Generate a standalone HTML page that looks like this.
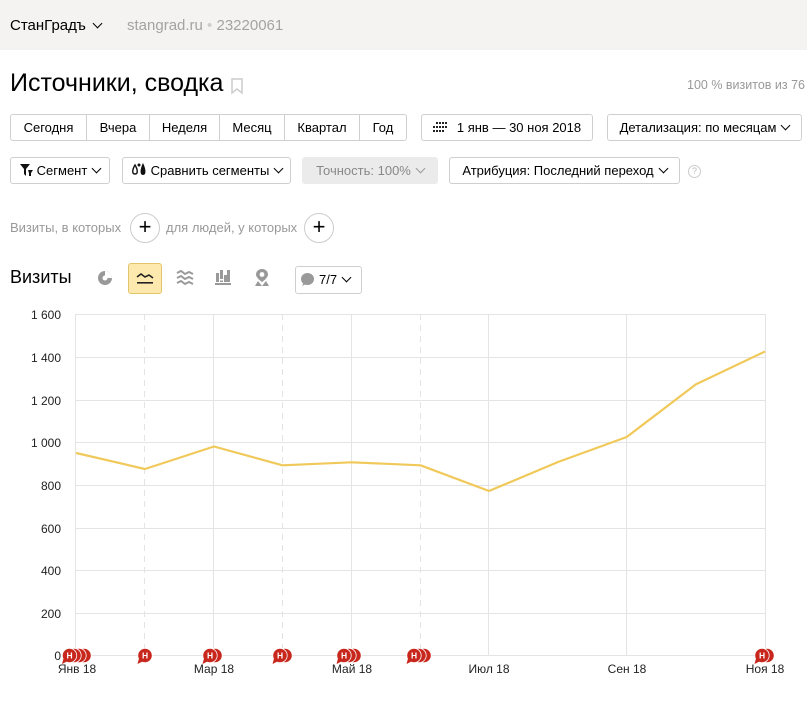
<!DOCTYPE html>
<html><head><meta charset="utf-8">
<style>
*{margin:0;padding:0;box-sizing:border-box}
body{width:807px;height:727px;overflow:hidden;background:#fff;font-family:"Liberation Sans","DejaVu Sans",sans-serif;color:#000;position:relative}
.abs{position:absolute}
.hdr{left:0;top:0;width:807px;height:50px;background:#f4f3f1}
.btn{position:absolute;height:27px;border:1px solid #cfcfcf;border-radius:3px;font-size:13px;line-height:25px;text-align:center;background:#fff;white-space:nowrap}
.grp{position:absolute;top:114px;height:27px;border:1px solid #cfcfcf;border-radius:3px;display:flex;left:10px;width:397px;font-size:13px;line-height:25px}
.grp div{border-right:1px solid #cfcfcf;text-align:center}
.grp div:last-child{border-right:none}
.chev{display:inline-block;width:7px;height:7px;border-right:1.3px solid #000;border-bottom:1.3px solid #000;transform:rotate(45deg);margin-left:6px;position:relative;top:-3px}
.circ{position:absolute;width:30px;height:30px;border:1px solid #ccc;border-radius:50%;font-size:22px;line-height:26px;text-align:center}
.gray{color:#999}
</style></head><body>
<div class="abs hdr"></div>
<div class="abs" style="left:10px;top:17px;font-size:15px;">СтанГрадъ<span class="chev" style="width:7px;height:7px;margin-left:8px"></span></div>
<div class="abs gray" style="left:127px;top:17px;font-size:15px;color:#a3a3a3">stangrad.ru <span style="color:#ccc">•</span> 23220061</div>

<div class="abs" style="left:10px;top:69px;font-size:25px;">Источники, сводка</div>
<svg class="abs" style="left:231px;top:78px" width="13" height="17"><path d="M1 1 H11 V15 L6 11 L1 15 Z" fill="none" stroke="#ccc" stroke-width="1.5"/></svg>
<div class="abs gray" style="right:2px;top:78px;font-size:12.5px">100 % визитов из 76</div>

<div class="grp">
<div style="width:76px">Сегодня</div>
<div style="width:63px">Вчера</div>
<div style="width:70px">Неделя</div>
<div style="width:65px">Месяц</div>
<div style="width:75px">Квартал</div>
<div style="flex:1">Год</div>
</div>
<div class="btn" style="left:421px;top:114px;width:172px">
<svg width="16" height="11" style="vertical-align:-1px;margin-right:8px"><g fill="#222"><rect x="0" y="4" width="2" height="2"/><rect x="3" y="4" width="2" height="2"/><rect x="6" y="0" width="2" height="2"/><rect x="9" y="0" width="2" height="2"/><rect x="12" y="0" width="2" height="2"/><rect x="0" y="8" width="2" height="2"/><rect x="3" y="8" width="2" height="2"/><rect x="6" y="4" width="2" height="2"/><rect x="9" y="4" width="2" height="2"/><rect x="12" y="4" width="2" height="2"/><rect x="6" y="8" width="2" height="2"/><rect x="9" y="8" width="2" height="2"/><rect x="3" y="0" width="2" height="2"/></g></svg>1 янв — 30 ноя 2018</div>
<div class="btn" style="left:607px;top:114px;width:195px">Детализация: по месяцам<span class="chev"></span></div>

<div class="btn" style="left:10px;top:157px;width:100px"><svg width="14" height="12" style="vertical-align:-1px;margin-right:3px"><path d="M0 0H10L6 5V12L4 10V5Z" fill="#111"/><path d="M8 6 L13 6 L11 9 L11 12 L9 12 L9 9Z" fill="#111"/></svg>Сегмент<span class="chev"></span></div>
<div class="btn" style="left:122px;top:157px;width:169px"><svg width="18" height="13" style="vertical-align:-1px;margin-right:2px"><path d="M4 2 C1 7 1 11 4 11 C7 11 7 7 4 2Z" fill="none" stroke="#111" stroke-width="1.4"/><path d="M12 0 C9 6 8.5 12 12 12 C15.5 12 15 6 12 0Z" fill="#111"/><circle cx="8" cy="2" r="1.5" fill="#111"/></svg>Сравнить сегменты<span class="chev"></span></div>
<div class="btn" style="left:302px;top:157px;width:136px;background:#ebebeb;border-color:#ebebeb;color:#888">Точность: 100%<span class="chev" style="border-color:#999"></span></div>
<div class="btn" style="left:449px;top:157px;width:231px">Атрибуция: Последний переход<span class="chev"></span></div>
<div class="abs" style="left:688px;top:165px;width:13px;height:13px;border:1px solid #ccc;border-radius:50%;font-size:9px;line-height:11px;text-align:center;color:#bbb">?</div>

<div class="abs gray" style="left:10px;top:220px;font-size:13px">Визиты, в которых</div>
<div class="circ" style="left:130px;top:213px">+</div>
<div class="abs gray" style="left:166px;top:220px;font-size:13px">для людей, у которых</div>
<div class="circ" style="left:304px;top:213px">+</div>

<div class="abs" style="left:10px;top:267px;font-size:18px">Визиты</div>
<svg class="abs" style="left:97px;top:270px" width="16" height="16"><circle cx="8" cy="8" r="7" fill="#999"/><path d="M8 8 L15 8 A7 7 0 0 0 8 1Z" fill="#fff"/><circle cx="8" cy="8" r="2.5" fill="#fff"/></svg>
<div class="abs" style="left:128px;top:263px;width:34px;height:31px;background:#fde9ad;border:1px solid #e2c56a;border-radius:3px"></div>
<svg class="abs" style="left:136px;top:271px" width="18" height="14"><path d="M1 6 L5 3 L9 6 L13 4 L17 7" fill="none" stroke="#222" stroke-width="1.6"/><rect x="1" y="11" width="16" height="1.6" fill="#222"/></svg>
<svg class="abs" style="left:176px;top:270px" width="18" height="16"><g fill="none" stroke="#999" stroke-width="2"><path d="M1 3 L5 1 L9 4 L13 2 L17 4"/><path d="M1 8 L5 6 L9 9 L13 7 L17 9"/><path d="M1 13 L5 11 L9 14 L13 12 L17 14"/></g></svg>
<svg class="abs" style="left:215px;top:269px" width="16" height="17"><g fill="#999"><rect x="1" y="4" width="3" height="9"/><rect x="5" y="1" width="3" height="12"/><rect x="9" y="6" width="3" height="7"/><rect x="12" y="1" width="3" height="12"/><rect x="0" y="14" width="16" height="2"/></g><rect x="5" y="10" width="3" height="1.5" fill="#fff"/></svg>
<svg class="abs" style="left:254px;top:268px" width="16" height="19"><path d="M8 1 C4 1 2 4 2 6.5 C2 10 8 14 8 14 C8 14 14 10 14 6.5 C14 4 12 1 8 1Z" fill="#999"/><circle cx="8" cy="6.5" r="2.4" fill="#fff"/><path d="M1 18 L4 13 L8 18Z M8 18 L12 13 L15 18Z" fill="#999"/></svg>
<div class="btn" style="left:295px;top:266px;width:67px;height:28px;line-height:26px;text-align:left;padding-left:4px"><svg width="15" height="15" style="vertical-align:-3px;margin-right:4px"><ellipse cx="7.5" cy="7" rx="6.5" ry="6" fill="#999"/><path d="M2 14 L4 10 L6 12Z" fill="#999"/></svg>7/7<span class="chev"></span></div>

<svg class="abs" style="left:0;top:0" width="807" height="727">
<g stroke="#e4e4e4" stroke-width="1" fill="none">
<line x1="76" y1="314.5" x2="765" y2="314.5"/>
<line x1="76" y1="357.5" x2="765" y2="357.5"/>
<line x1="76" y1="400.5" x2="765" y2="400.5"/>
<line x1="76" y1="442.5" x2="765" y2="442.5"/>
<line x1="76" y1="485.5" x2="765" y2="485.5"/>
<line x1="76" y1="528.5" x2="765" y2="528.5"/>
<line x1="76" y1="570.5" x2="765" y2="570.5"/>
<line x1="76" y1="613.5" x2="765" y2="613.5"/>
<line x1="76" y1="655.5" x2="765" y2="655.5"/>
<line x1="75.5" y1="314" x2="75.5" y2="656"/>
<line x1="213.5" y1="314" x2="213.5" y2="656"/>
<line x1="351.5" y1="314" x2="351.5" y2="656"/>
<line x1="488.5" y1="314" x2="488.5" y2="656"/>
<line x1="626.5" y1="314" x2="626.5" y2="656"/>
<line x1="765.5" y1="314" x2="765.5" y2="656"/>
<g stroke-dasharray="6,5"><line x1="144.5" y1="314" x2="144.5" y2="656"/><line x1="282.5" y1="314" x2="282.5" y2="656"/><line x1="420.5" y1="314" x2="420.5" y2="656"/></g>
</g>
<g font-size="12" fill="#222" text-anchor="end" font-family="Liberation Sans, sans-serif">
<text x="61" y="319">1 600</text><text x="61" y="362">1 400</text><text x="61" y="405">1 200</text><text x="61" y="447">1 000</text><text x="61" y="490">800</text><text x="61" y="533">600</text><text x="61" y="575">400</text><text x="61" y="618">200</text><text x="61" y="660">0</text>
</g>
<polyline fill="none" stroke="#f0c95a" stroke-width="2.2" stroke-linejoin="round" points="76,453 145,469 214,446.5 282.5,465.3 351.5,462.3 420.5,465.3 489,491 558,462 626.7,437 696,384.3 765,351.5"/>
<g font-size="12" fill="#222" text-anchor="middle" font-family="Liberation Sans, sans-serif">
<text x="77" y="673">Янв 18</text><text x="214" y="673">Мар 18</text><text x="352" y="673">Май 18</text><text x="489" y="673">Июл 18</text><text x="627" y="673">Сен 18</text><text x="765" y="673">Ноя 18</text>
</g>
<defs>
<g id="m"><circle cx="0" cy="0" r="7.2" fill="#c8271d" stroke="#fff" stroke-width="0.8"/><path d="M-6 3 L-7.5 8.5 L-2 5.8Z" fill="#c8271d"/><text x="0" y="3.2" font-size="8.5" font-weight="bold" fill="#fff" text-anchor="middle" font-family="Liberation Sans, sans-serif">Н</text></g>
<g id="b"><circle cx="0" cy="0" r="7.2" fill="#c8271d" stroke="#fff" stroke-width="0.8"/></g>
</defs>
<use href="#b" x="84" y="655.5"/><use href="#b" x="79" y="655.5"/><use href="#b" x="74" y="655.5"/><use href="#m" x="69.5" y="655.5"/>
<use href="#m" x="145" y="655.5"/>
<use href="#b" x="215" y="655.5"/><use href="#m" x="210" y="655.5"/>
<use href="#b" x="285" y="655.5"/><use href="#m" x="280" y="655.5"/>
<use href="#b" x="354" y="655.5"/><use href="#b" x="349" y="655.5"/><use href="#m" x="344" y="655.5"/>
<use href="#b" x="424" y="655.5"/><use href="#b" x="419" y="655.5"/><use href="#m" x="414" y="655.5"/>
<use href="#b" x="767" y="655.5"/><use href="#m" x="762" y="655.5"/>
</svg>
</body></html>
